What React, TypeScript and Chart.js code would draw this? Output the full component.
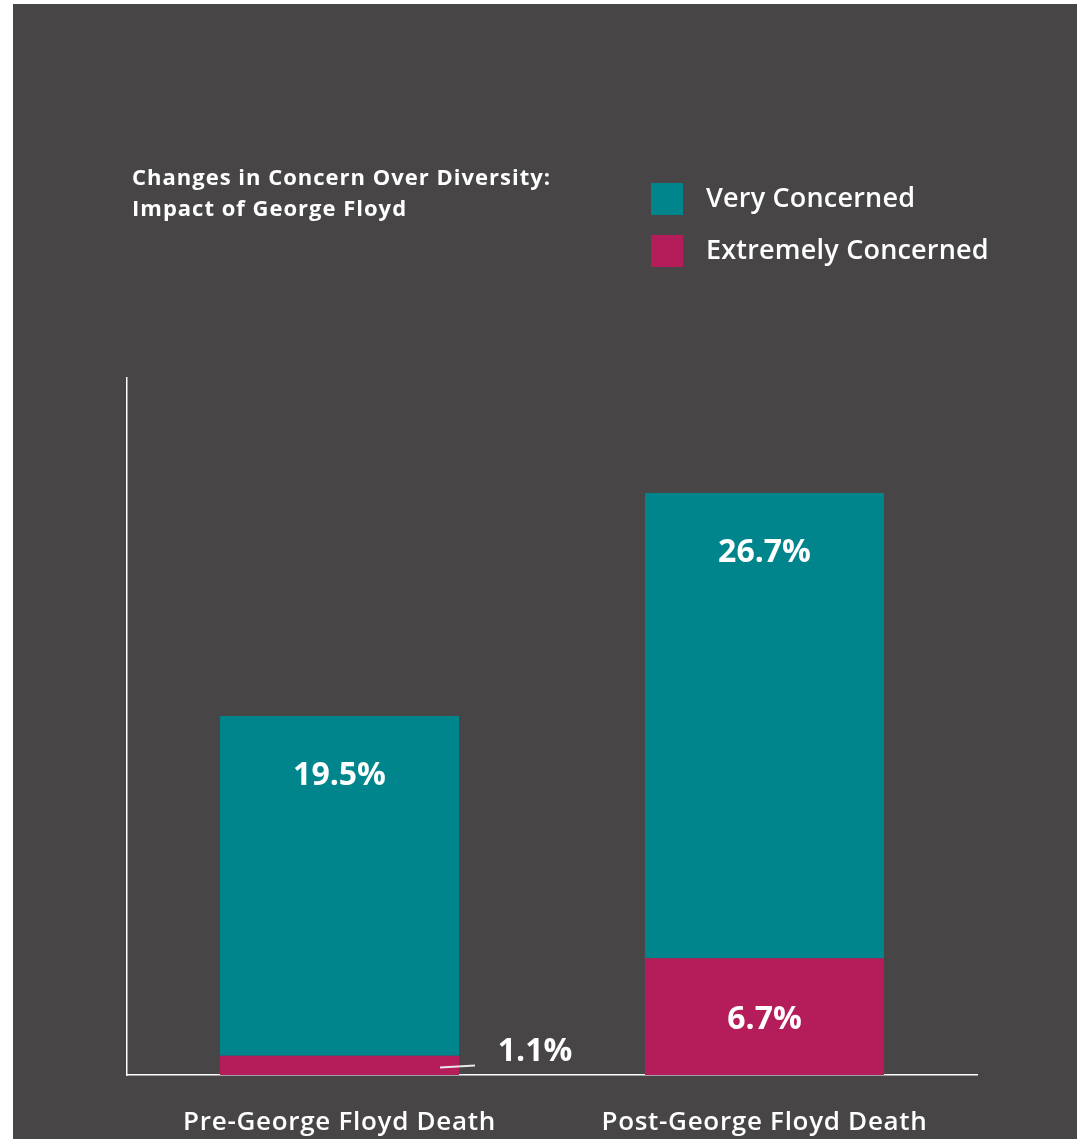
import React, { useEffect, useRef } from "react";
import { Chart, registerables } from "chart.js";

Chart.register(...registerables);

const categories = ["Pre-George Floyd Death", "Post-George Floyd Death"];
const extremelyConcerned = [1.1, 6.7];
const veryConcerned = [19.5, 26.7];
const seriesNames = ["Extremely Concerned", "Very Concerned"];
const titleLines = ["Changes in Concern Over Diversity:", "Impact of George Floyd"];
const legendOrder = ["Very Concerned", "Extremely Concerned"];

const BG = "#474546";
const TEAL = "#00858C";
const MAGENTA = "#B51C5A";
const FONT = "'Open Sans', Lato, sans-serif";

const W = 1064;
const H = 1135;

const decorPlugin = {
  id: "decor",
  beforeDraw(chart: any) {
    chart.ctx.letterSpacing = "0.7px";
  },
  afterDraw(chart: any) {
    const ctx = chart.ctx;
    ctx.save();
    // title
    ctx.fillStyle = "#ffffff";
    ctx.font = `bold 22px ${FONT}`;
    ctx.letterSpacing = "1px";
    ctx.textAlign = "left";
    ctx.textBaseline = "middle";
    ctx.fillText(titleLines[0], 119, 175);
    ctx.fillText(titleLines[1], 119, 206);
    // legend
    const colorFor: Record<string, string> = {
      "Very Concerned": TEAL,
      "Extremely Concerned": MAGENTA,
    };
    ctx.letterSpacing = "0.2px";
    legendOrder.forEach((name, i) => {
      const y = 179 + i * 52;
      ctx.fillStyle = colorFor[name];
      ctx.fillRect(638, y, 32, 32);
      ctx.fillStyle = "#ffffff";
      ctx.font = `600 27px ${FONT}`;
      ctx.fillText(name, 693, y + 16);
    });
    // value labels
    ctx.letterSpacing = "0px";
    ctx.font = `bold 32px ${FONT}`;
    ctx.textAlign = "center";
    chart.data.datasets.forEach((ds: any, di: number) => {
      const meta = chart.getDatasetMeta(di);
      meta.data.forEach((bar: any, i: number) => {
        const v = ds.data[i];
        const label = `${v}%`;
        const h = bar.base - bar.y;
        ctx.fillStyle = "#ffffff";
        if (di === 1) {
          ctx.fillText(label, bar.x, bar.y + 60);
        } else if (h > 40) {
          ctx.fillText(label, bar.x, (bar.y + bar.base) / 2 + 3);
        } else {
          const right = bar.x + bar.width / 2;
          ctx.fillText(label, right + 76, bar.y - 4);
          ctx.strokeStyle = "#e8e8e8";
          ctx.lineWidth = 2;
          ctx.beginPath();
          ctx.moveTo(right - 19, (bar.y + bar.base) / 2 + 2);
          ctx.lineTo(right + 16, (bar.y + bar.base) / 2);
          ctx.stroke();
        }
      });
    });
    ctx.restore();
  },
};

export default function App() {
  const ref = useRef<HTMLCanvasElement | null>(null);
  useEffect(() => {
    if (!ref.current) return;
    const chart = new Chart(ref.current, {
      type: "bar",
      data: {
        labels: categories,
        datasets: [
          {
            label: seriesNames[0],
            data: extremelyConcerned,
            backgroundColor: MAGENTA,
            barPercentage: 0.5625,
            categoryPercentage: 1,
          },
          {
            label: seriesNames[1],
            data: veryConcerned,
            backgroundColor: TEAL,
            barPercentage: 0.5625,
            categoryPercentage: 1,
          },
        ],
      },
      options: {
        animation: false,
        responsive: false,
        maintainAspectRatio: false,
        layout: { padding: { left: 114, right: 100, top: 374, bottom: 0 } },
        plugins: {
          legend: { display: false },
          title: { display: false },
          tooltip: { enabled: false },
        },
        scales: {
          x: {
            stacked: true,
            grid: { display: false },
            border: { display: true, color: "#ffffff", width: 1.5 },
            ticks: {
              color: "#ffffff",
              font: { family: FONT, size: 26, weight: "600" as any },
              padding: 24,
            },
            afterFit: (s: any) => {
              s.height = 64;
            },
          },
          y: {
            stacked: true,
            min: 0,
            max: 40,
            grid: { display: false },
            border: { display: true, color: "#ffffff", width: 1.5 },
            ticks: { display: false },
            afterFit: (s: any) => {
              s.width = 0;
            },
          },
        },
      },
      plugins: [decorPlugin],
    });
    return () => chart.destroy();
  }, []);
  return (
    <div style={{ position: "absolute", left: 13, top: 4 }}>
      <canvas
        ref={ref}
        width={W}
        height={H}
        style={{ width: W, height: H, background: BG, display: "block" }}
      />
    </div>
  );
}
